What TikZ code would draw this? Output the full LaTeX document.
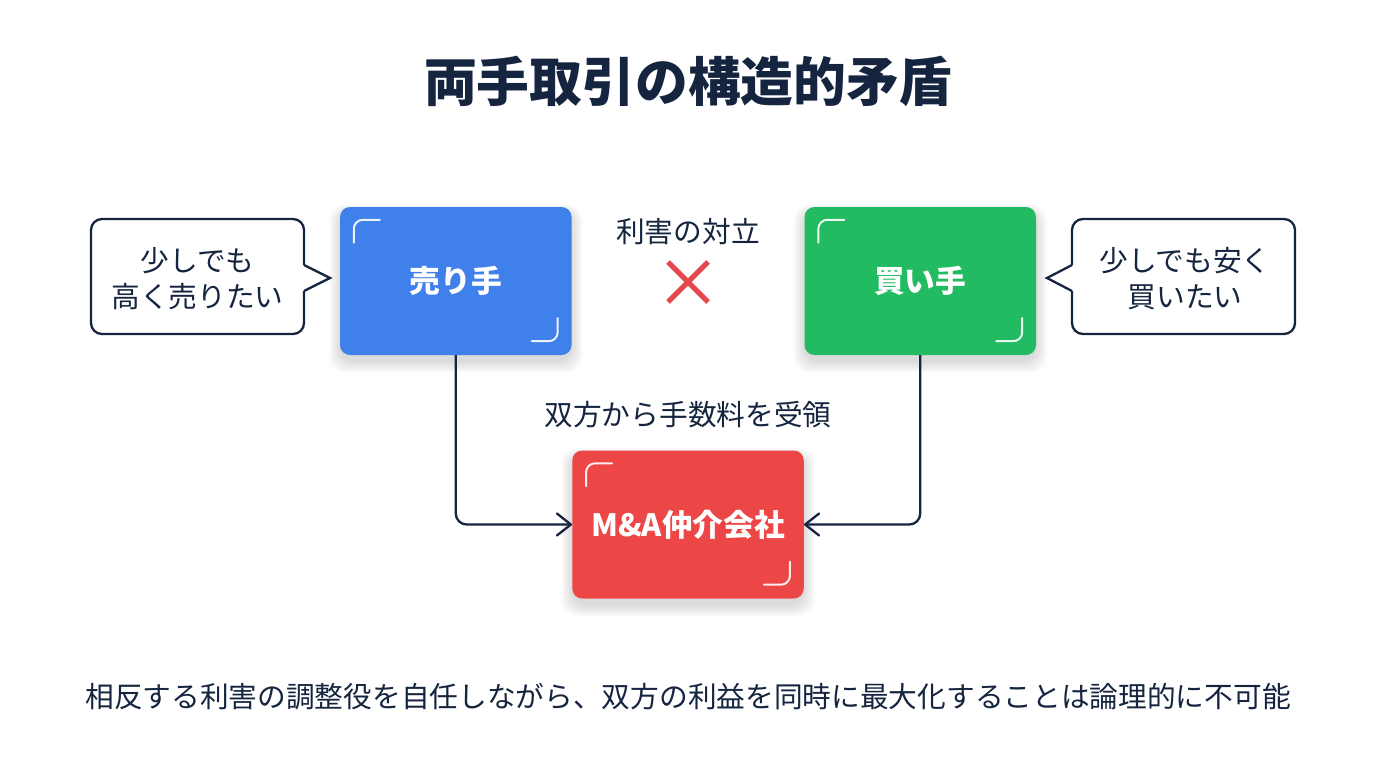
\documentclass[tikz,border=0pt]{standalone}
\usepackage{fontspec}
\setmainfont{Noto Sans CJK JP}
\usetikzlibrary{arrows.meta,calc}
\definecolor{ink}{HTML}{15253F}
\definecolor{bluebox}{HTML}{3F80EA}
\definecolor{greenbox}{HTML}{22BB62}
\definecolor{redbox}{HTML}{EC4646}
\definecolor{crossred}{HTML}{E5484D}
\tikzset{x=1pt,y=-1pt,
 cardbox/.style={rounded corners=10pt,minimum width=231.5pt,minimum height=148pt,text=white,font=\fontsize{30.7}{34}\selectfont\bfseries,inner sep=0pt},
 bubble/.style={draw=ink,line width=2.3pt,fill=white,line join=round},
 lab/.style={text=ink,font=\fontsize{28.7}{36}\selectfont,align=center,inner sep=0pt},
 conn/.style={draw=ink,line width=2.3pt,rounded corners=11pt,-{Straight Barb[length=14pt,width=22pt,line width=2.3pt,round]}},
 tick/.style={draw=white,opacity=.9,line width=2pt,line cap=round,rounded corners=9pt}}
\newcommand{\softshadow}[2]{%
 \foreach \i in {1,...,12}{
  \fill[black,opacity=.010,rounded corners=16pt] ($(#1,#2)+(-116-12+\i,-74-3+.5*\i)$) rectangle ($(#1,#2)+(116+12-\i,74+19-\i)$);
 }}
\begin{document}
\begin{tikzpicture}
\useasboundingbox (0,0) rectangle (1376,768);
\fill[white] (0,0) rectangle (1376,768);
\node[text=ink,font=\fontsize{52.8}{60}\selectfont\bfseries,inner sep=0pt] (title) at (688,81) {両手取引の構造的矛盾};
\softshadow{455.75}{281}
\softshadow{920.25}{281}
\softshadow{688}{524.5}
\node[cardbox,fill=bluebox] (seller) at (455.75,281) {\raisebox{-1pt}{売り手}};
\node[cardbox,fill=greenbox] (buyer) at (920.25,281) {\raisebox{-1pt}{買い手}};
\node[cardbox,fill=redbox] (agent) at (688,524.5) {M\&A仲介会社};
\foreach \n in {seller,buyer,agent}{
 \draw[tick] ($(\n.north west)+(14,36)$) -- ($(\n.north west)+(14,13)$) -- ($(\n.north west)+(40,13)$);
 \draw[tick] ($(\n.south east)+(-14,-37)$) -- ($(\n.south east)+(-14,-14)$) -- ($(\n.south east)+(-40,-14)$);
}
\draw[bubble,rounded corners=11pt] (304,265) -- (304,219) -- (91,219) -- (91,334) -- (304,334) -- (304,291);
\draw[bubble,line join=miter] (304,265) -- (330,278) -- (304,291);
\node[lab] (sellerwish) at (197.5,279) {少しでも\\高く売りたい};
\draw[bubble,rounded corners=11pt] (1072,265) -- (1072,219) -- (1295,219) -- (1295,334) -- (1072,334) -- (1072,291);
\draw[bubble,line join=miter] (1072,265) -- (1047,278) -- (1072,291);
\node[lab] (buyerwish) at (1185,279) {少しでも安く\\買いたい};
\node[lab] (conflict) at (688,232) {利害の対立};
\coordinate (xc) at (688,282);
\draw[draw=crossred,line width=5pt] ($(xc)+(-20,-20)$) -- ($(xc)+(20,20)$) ($(xc)+(20,-20)$) -- ($(xc)+(-20,20)$);
\node[lab] (fee) at (688,415) {双方から手数料を受領};
\draw[conn] (seller.south) -- (455.75,524.5) -- (agent.west);
\draw[conn] (buyer.south) -- (920.25,524.5) -- (agent.east);
\node[lab] (bottom) at (688,697) {相反する利害の調整役を自任しながら、双方の利益を同時に最大化することは論理的に不可能};
\end{tikzpicture}
\end{document}
